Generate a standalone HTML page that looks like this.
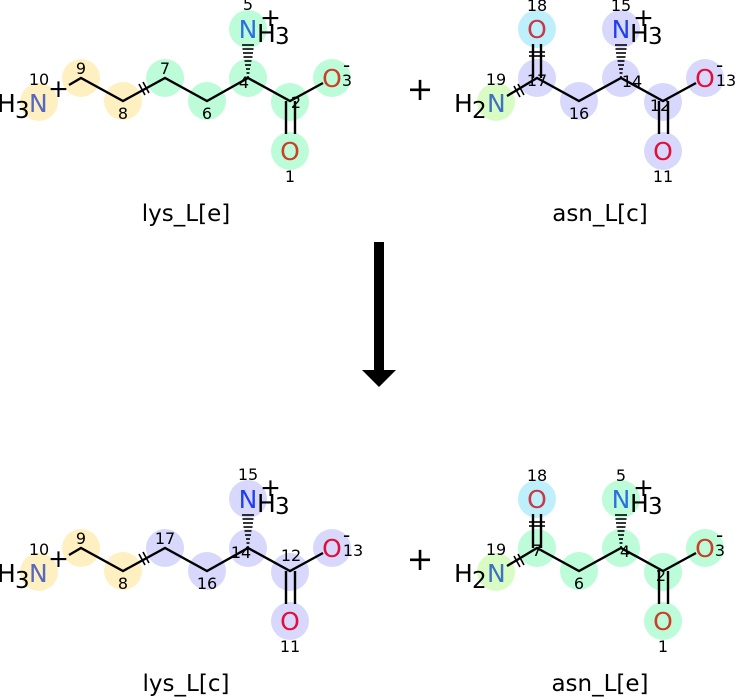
<!DOCTYPE html>
<html><head><meta charset="utf-8"><style>
html,body{margin:0;padding:0;background:#fff;}
svg{display:block;}
text{font-family:"DejaVu Sans","Liberation Sans",sans-serif;}
.b{stroke:#000;stroke-width:2.4;fill:none;}
.h{stroke:#000;stroke-width:1.6;}
</style></head><body>
<svg width="735" height="697" viewBox="0 0 735 697" xmlns="http://www.w3.org/2000/svg">
<defs>
<g id="hash">
<line class="h" x1="-6" y1="45" x2="6" y2="45"/>
<line class="h" x1="-5.5" y1="49" x2="5.5" y2="49"/>
<line class="h" x1="-5" y1="53" x2="5" y2="53"/>
<line class="h" x1="-4.5" y1="57" x2="4.5" y2="57"/>
<line class="h" x1="-3.5" y1="61" x2="3.5" y2="61"/>
<line class="h" x1="-3" y1="65" x2="3" y2="65"/>
<line class="h" x1="-2" y1="69" x2="2" y2="69"/>
<line class="h" x1="-1.5" y1="73" x2="1.5" y2="73"/>
<line class="h" x1="-1" y1="77" x2="1" y2="77"/>
</g>
</defs>

<!-- top-left lys_L[e] -->
<g>
<circle cx="39" cy="102" r="19" fill="#fef0c0"/>
<circle cx="81" cy="78" r="19" fill="#fef0c0"/>
<circle cx="123" cy="101" r="19" fill="#fef0c0"/>
<circle cx="165" cy="78" r="19" fill="#bdfcd8"/>
<circle cx="207" cy="101" r="19" fill="#bdfcd8"/>
<circle cx="248" cy="78" r="19" fill="#bdfcd8"/>
<circle cx="248" cy="29" r="19" fill="#bdfcd8"/>
<circle cx="290" cy="102" r="19" fill="#bdfcd8"/>
<circle cx="332" cy="78" r="19" fill="#bdfcd8"/>
<circle cx="290" cy="151" r="19" fill="#bdfcd8"/>
<polyline class="b" points="69,85 81,78 123,101 165,78 207,101 248,78 290,101 323,83"/>
<line class="b" x1="286" y1="101" x2="286" y2="134"/>
<line class="b" x1="295" y1="101" x2="295" y2="134"/>
<line class="h" stroke-width="2" x1="139" y1="84" x2="145" y2="95"/>
<line class="h" stroke-width="2" x1="143" y1="82" x2="149" y2="93"/>
<use href="#hash" x="248" y="0"/>
<text font-size="25" x="-3" y="112">H</text><text font-size="23" x="15" y="118">3</text>
<text font-size="25" x="29" y="112" fill="#5868c0">N</text>
<text font-size="25" x="48" y="97">+</text>
<text font-size="16" x="39" y="85" text-anchor="middle">10</text>
<text font-size="16" x="81" y="74" text-anchor="middle">9</text>
<text font-size="16" x="123" y="119" text-anchor="middle">8</text>
<text font-size="16" x="165" y="74" text-anchor="middle">7</text>
<text font-size="16" x="207" y="119" text-anchor="middle">6</text>
<text font-size="16" x="244" y="88" text-anchor="middle">4</text>
<text font-size="16" x="248" y="10" text-anchor="middle">5</text>
<text font-size="16" x="296" y="108" text-anchor="middle">2</text>
<text font-size="16" x="347" y="86" text-anchor="middle">3</text>
<text font-size="16" x="290" y="182" text-anchor="middle">1</text>
<text font-size="25" x="248" y="38" text-anchor="middle" fill="#2a70e0">N</text>
<text font-size="25" x="257" y="42">H</text><text font-size="23" x="275" y="44">3</text>
<text font-size="25" x="260" y="26">+</text>
<text font-size="25" x="332" y="87" text-anchor="middle" fill="#c84028">O</text>
<text font-size="20" x="343" y="72">-</text>
<text font-size="25" x="290" y="160" text-anchor="middle" fill="#c84028">O</text>
<text font-size="23" x="186" y="221" text-anchor="middle">lys_L[e]</text>
</g>

<!-- bottom-left lys_L[c] -->
<g transform="translate(0,470)">
<circle cx="39" cy="102" r="19" fill="#fef0c0"/>
<circle cx="81" cy="78" r="19" fill="#fef0c0"/>
<circle cx="123" cy="101" r="19" fill="#fef0c0"/>
<circle cx="165" cy="78" r="19" fill="#d8d8fc"/>
<circle cx="207" cy="101" r="19" fill="#d8d8fc"/>
<circle cx="248" cy="78" r="19" fill="#d8d8fc"/>
<circle cx="248" cy="29" r="19" fill="#d8d8fc"/>
<circle cx="290" cy="102" r="19" fill="#d8d8fc"/>
<circle cx="332" cy="78" r="19" fill="#d8d8fc"/>
<circle cx="290" cy="151" r="19" fill="#d8d8fc"/>
<polyline class="b" points="69,85 81,78 123,101 165,78 207,101 248,78 290,101 323,83"/>
<line class="b" x1="286" y1="101" x2="286" y2="134"/>
<line class="b" x1="295" y1="101" x2="295" y2="134"/>
<line class="h" stroke-width="2" x1="139" y1="84" x2="145" y2="95"/>
<line class="h" stroke-width="2" x1="143" y1="82" x2="149" y2="93"/>
<use href="#hash" x="248" y="0"/>
<text font-size="25" x="-3" y="112">H</text><text font-size="23" x="15" y="118">3</text>
<text font-size="25" x="29" y="112" fill="#5868c0">N</text>
<text font-size="25" x="48" y="97">+</text>
<text font-size="16" x="39" y="85" text-anchor="middle">10</text>
<text font-size="16" x="81" y="74" text-anchor="middle">9</text>
<text font-size="16" x="123" y="119" text-anchor="middle">8</text>
<text font-size="16" x="165" y="74" text-anchor="middle">17</text>
<text font-size="16" x="207" y="119" text-anchor="middle">16</text>
<text font-size="16" x="241" y="88" text-anchor="middle">14</text>
<text font-size="16" x="248" y="10" text-anchor="middle">15</text>
<text font-size="16" x="291" y="91" text-anchor="middle">12</text>
<text font-size="16" x="353" y="86" text-anchor="middle">13</text>
<text font-size="16" x="290" y="182" text-anchor="middle">11</text>
<text font-size="25" x="248" y="38" text-anchor="middle" fill="#2040f0">N</text>
<text font-size="25" x="257" y="42">H</text><text font-size="23" x="275" y="44">3</text>
<text font-size="25" x="260" y="26">+</text>
<text font-size="25" x="332" y="87" text-anchor="middle" fill="#e0103a">O</text>
<text font-size="20" x="343" y="72">-</text>
<text font-size="25" x="290" y="160" text-anchor="middle" fill="#e0103a">O</text>
<text font-size="23" x="186" y="221" text-anchor="middle">lys_L[c]</text>
</g>

<!-- top-right asn_L[c] -->
<g transform="translate(456,0)">
<circle cx="40" cy="102" r="19" fill="#d9fcc4"/>
<circle cx="81" cy="78" r="19" fill="#d8d8fc"/>
<circle cx="81" cy="29" r="19" fill="#bef0fc"/>
<circle cx="123" cy="101" r="19" fill="#d8d8fc"/>
<circle cx="165" cy="78" r="19" fill="#d8d8fc"/>
<circle cx="165" cy="29" r="19" fill="#d8d8fc"/>
<circle cx="207" cy="102" r="19" fill="#d8d8fc"/>
<circle cx="249" cy="78" r="19" fill="#d8d8fc"/>
<circle cx="207" cy="151" r="19" fill="#d8d8fc"/>
<polyline class="b" points="51,96 81,78 123,101 165,78 207,101 240,83"/>
<line class="b" x1="77" y1="78" x2="77" y2="44"/>
<line class="b" x1="85" y1="78" x2="85" y2="44"/>
<line class="h" stroke-width="2" x1="73" y1="52" x2="89" y2="52"/>
<line class="h" stroke-width="2" x1="73" y1="56" x2="89" y2="56"/>
<line class="h" stroke-width="2" x1="58" y1="86" x2="64" y2="97"/>
<line class="h" stroke-width="2" x1="62" y1="84" x2="68" y2="95"/>
<line class="b" x1="203" y1="101" x2="203" y2="134"/>
<line class="b" x1="212" y1="101" x2="212" y2="134"/>
<use href="#hash" x="165" y="0"/>
<text font-size="25" x="-2" y="112">H</text><text font-size="23" x="16" y="118">2</text>
<text font-size="25" x="31" y="112" fill="#4070c0">N</text>
<text font-size="16" x="40" y="85" text-anchor="middle">19</text>
<text font-size="16" x="81" y="86" text-anchor="middle">17</text>
<text font-size="16" x="81" y="11" text-anchor="middle">18</text>
<text font-size="16" x="123" y="119" text-anchor="middle">16</text>
<text font-size="16" x="176" y="87" text-anchor="middle">14</text>
<text font-size="16" x="165" y="11" text-anchor="middle">15</text>
<text font-size="16" x="204" y="111" text-anchor="middle">12</text>
<text font-size="16" x="270" y="86" text-anchor="middle">13</text>
<text font-size="16" x="207" y="182" text-anchor="middle">11</text>
<text font-size="25" x="81" y="38" text-anchor="middle" fill="#c83848">O</text>
<text font-size="25" x="165" y="38" text-anchor="middle" fill="#2040f0">N</text>
<text font-size="25" x="174" y="42">H</text><text font-size="23" x="192" y="44">3</text>
<text font-size="25" x="177" y="26">+</text>
<text font-size="25" x="249" y="87" text-anchor="middle" fill="#e0103a">O</text>
<text font-size="20" x="260" y="72">-</text>
<text font-size="25" x="207" y="160" text-anchor="middle" fill="#e0103a">O</text>
<text font-size="23" x="144" y="221" text-anchor="middle">asn_L[c]</text>
</g>

<!-- bottom-right asn_L[e] -->
<g transform="translate(456,470)">
<circle cx="40" cy="102" r="19" fill="#d9fcc4"/>
<circle cx="81" cy="78" r="19" fill="#bdfcd8"/>
<circle cx="81" cy="29" r="19" fill="#bef0fc"/>
<circle cx="123" cy="101" r="19" fill="#bdfcd8"/>
<circle cx="165" cy="78" r="19" fill="#bdfcd8"/>
<circle cx="165" cy="29" r="19" fill="#bdfcd8"/>
<circle cx="207" cy="102" r="19" fill="#bdfcd8"/>
<circle cx="249" cy="78" r="19" fill="#bdfcd8"/>
<circle cx="207" cy="151" r="19" fill="#bdfcd8"/>
<polyline class="b" points="51,96 81,78 123,101 165,78 207,101 240,83"/>
<line class="b" x1="77" y1="78" x2="77" y2="44"/>
<line class="b" x1="85" y1="78" x2="85" y2="44"/>
<line class="h" stroke-width="2" x1="73" y1="52" x2="89" y2="52"/>
<line class="h" stroke-width="2" x1="73" y1="56" x2="89" y2="56"/>
<line class="h" stroke-width="2" x1="58" y1="86" x2="64" y2="97"/>
<line class="h" stroke-width="2" x1="62" y1="84" x2="68" y2="95"/>
<line class="b" x1="203" y1="101" x2="203" y2="134"/>
<line class="b" x1="212" y1="101" x2="212" y2="134"/>
<use href="#hash" x="165" y="0"/>
<text font-size="25" x="-2" y="112">H</text><text font-size="23" x="16" y="118">2</text>
<text font-size="25" x="31" y="112" fill="#4070c0">N</text>
<text font-size="16" x="40" y="85" text-anchor="middle">19</text>
<text font-size="16" x="81" y="86" text-anchor="middle">7</text>
<text font-size="16" x="81" y="11" text-anchor="middle">18</text>
<text font-size="16" x="123" y="119" text-anchor="middle">6</text>
<text font-size="16" x="169" y="87" text-anchor="middle">4</text>
<text font-size="16" x="165" y="11" text-anchor="middle">5</text>
<text font-size="16" x="205" y="111" text-anchor="middle">2</text>
<text font-size="16" x="264" y="86" text-anchor="middle">3</text>
<text font-size="16" x="207" y="182" text-anchor="middle">1</text>
<text font-size="25" x="81" y="38" text-anchor="middle" fill="#c83848">O</text>
<text font-size="25" x="165" y="38" text-anchor="middle" fill="#2a70e0">N</text>
<text font-size="25" x="174" y="42">H</text><text font-size="23" x="192" y="44">3</text>
<text font-size="25" x="177" y="26">+</text>
<text font-size="25" x="249" y="87" text-anchor="middle" fill="#c84028">O</text>
<text font-size="20" x="260" y="72">-</text>
<text font-size="25" x="207" y="160" text-anchor="middle" fill="#c84028">O</text>
<text font-size="23" x="144" y="221" text-anchor="middle">asn_L[e]</text>
</g>

<!-- plus signs -->
<text x="420" y="100" font-size="32" text-anchor="middle">+</text>
<text x="420" y="570" font-size="32" text-anchor="middle">+</text>

<!-- arrow -->
<rect x="374" y="242" width="10" height="130" fill="#000"/>
<polygon points="362,370 396,370 379,387" fill="#000"/>
</svg>
</body></html>
